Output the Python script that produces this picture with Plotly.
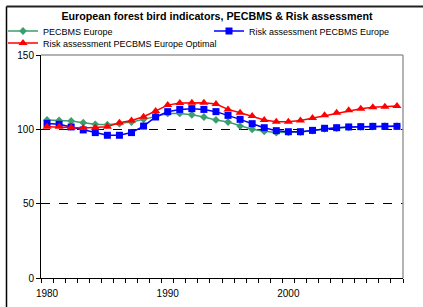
import plotly.graph_objects as go

years = list(range(1980, 2010))
pecbms = [106.3, 106.0, 105.6, 104.5, 103.4, 103.1, 103.8, 104.9, 106.7, 108.9,
          110.7, 110.7, 109.8, 108.3, 106.3, 104.9, 102.2, 100.0, 98.7, 97.8,
          98.0, 98.2, 99.1, 100.4, 100.9, 101.4, 101.7, 101.9, 102.1, 102.2]
risk = [104.0, 103.4, 101.6, 99.6, 97.8, 96.0, 96.0, 97.8, 102.2, 108.3,
        111.9, 113.4, 113.9, 113.4, 111.9, 109.4, 106.7, 103.8, 101.1, 99.1,
        98.4, 98.4, 99.3, 100.7, 101.1, 101.6, 101.8, 102.0, 102.0, 102.0]
risk_opt = [101.8, 101.8, 101.3, 100.9, 101.1, 101.8, 104.5, 106.0, 108.5, 112.3,
            116.3, 117.7, 117.9, 117.9, 117.0, 113.4, 111.2, 108.9, 106.3, 105.1,
            105.1, 106.0, 107.6, 109.4, 111.2, 112.8, 113.9, 114.8, 115.2, 115.7]
y_ticks = [0, 50, 100, 150]
x_labels = [1980, 1990, 2000]

W, H = 423, 307
ML, MR, MT, MB = 41, 20, 55, 29
PW, PH = W - ML - MR, H - MT - MB

def px_x(px):
    return (px - ML) / PW

def px_y(py):
    return (H - MB - py) / PH

FONT = "Arial, Liberation Sans, sans-serif"

fig = go.Figure()
fig.add_trace(go.Scatter(x=years, y=pecbms, name="PECBMS Europe", mode="lines+markers",
                         line=dict(color="#3c9e6e", width=1.5), legend="legend",
                         marker=dict(symbol="diamond", size=6, color="#3c9e6e")))
fig.add_trace(go.Scatter(x=years, y=risk, name="Risk assessment PECBMS Europe", mode="lines+markers",
                         line=dict(color="#0000ff", width=1.5), legend="legend2",
                         marker=dict(symbol="square", size=7, color="#0000ff")))
fig.add_trace(go.Scatter(x=years, y=risk_opt, name="Risk assessment PECBMS Europe Optimal",
                         mode="lines+markers", legend="legend3",
                         line=dict(color="#ff0000", width=1.5),
                         marker=dict(symbol="triangle-up", size=8, color="#ff0000")))
# invisible trace for secondary x axis labels
fig.add_trace(go.Scatter(x=[years[0]], y=[None], xaxis="x2", showlegend=False, hoverinfo="skip"))

def leg(xpx, ypx):
    return dict(x=px_x(xpx), xanchor="left", y=px_y(ypx), yanchor="middle",
                font=dict(family=FONT, size=9), itemwidth=30, bgcolor="rgba(0,0,0,0)",
                borderwidth=0)

fig.update_layout(
    width=W, height=H,
    margin=dict(l=ML, r=MR, t=MT, b=MB, autoexpand=False),
    paper_bgcolor="white", plot_bgcolor="white",
    font=dict(family=FONT, size=10, color="black"),
    title=dict(text="<b>European forest bird indicators, PECBMS & Risk assessment</b>",
               x=217 / W, xanchor="center", y=1 - 16 / H, yanchor="middle",
               font=dict(family=FONT, size=10.7, color="black")),
    showlegend=True,
    legend=leg(3, 31),
    legend2=leg(209, 31),
    legend3=leg(3, 43),
    xaxis=dict(range=[1979.5, 2009.5], tickvals=[y_ + 0.5 for y_ in [1979] + years],
               ticktext=["" for _ in range(31)], ticks="outside", ticklen=4, tickcolor="black",
               showline=True, linecolor="black", linewidth=1, showgrid=False, zeroline=False,
               automargin=False),
    xaxis2=dict(overlaying="x", side="bottom", range=[1979.5, 2009.5], tickvals=x_labels,
                ticktext=[str(v) for v in x_labels], ticks="", showline=False, showgrid=False,
                zeroline=False, tickfont=dict(size=10), ticklabelstandoff=8, automargin=False),
    yaxis=dict(range=[0, 150], tickvals=y_ticks, ticks="outside", ticklen=4, tickcolor="black",
               showline=True, linecolor="black", linewidth=1, showgrid=True,
               gridcolor="black", griddash="dash", gridwidth=1, zeroline=False,
               tickfont=dict(size=10), automargin=False),
)

# plot area top/right border (gray)
fig.add_shape(type="line", xref="paper", yref="paper", x0=0, x1=1, y0=1, y1=1,
              line=dict(color="#9a9a9a", width=1.5), layer="above")
fig.add_shape(type="line", xref="paper", yref="paper", x0=1, x1=1, y0=0, y1=1,
              line=dict(color="#9a9a9a", width=1.5), layer="above")
# outer chart frame
fig.add_shape(type="line", xref="paper", yref="paper", x0=px_x(6.5), x1=px_x(6.5),
              y0=px_y(320), y1=px_y(6.5), line=dict(color="black", width=1.5), layer="above")
fig.add_shape(type="line", xref="paper", yref="paper", x0=px_x(6.5), x1=px_x(440),
              y0=px_y(6.5), y1=px_y(6.5), line=dict(color="#222222", width=2), layer="above")

fig.write_html("out.html", config={"displayModeBar": False},
               post_script="document.body.style.margin='0';document.body.style.overflow='hidden';")
